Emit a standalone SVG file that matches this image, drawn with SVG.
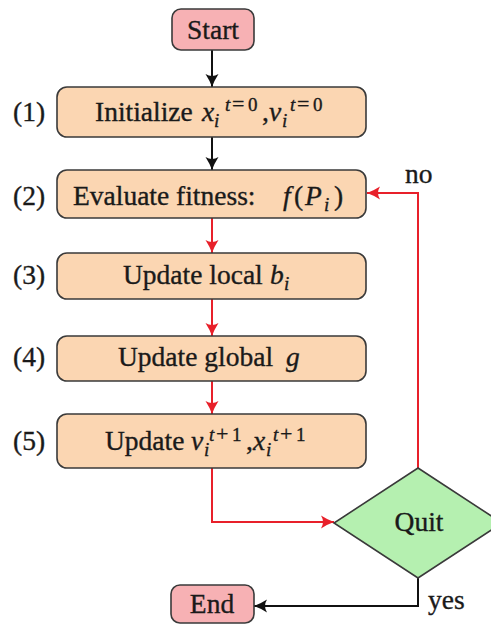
<svg xmlns="http://www.w3.org/2000/svg" width="491" height="624" viewBox="0 0 491 624">
<style>
text{font-family:"Liberation Serif","Times New Roman",serif;font-size:27.5px;fill:#1a1a1a;stroke:#1a1a1a;stroke-width:0.35}
.m{font-style:italic}
.s{font-size:19px}
.op{font-size:22px}
.ss{font-size:19px;font-style:italic}
.term{fill:#f7b1b4;stroke:#3a3a3a;stroke-width:1.6}
.proc{fill:#fbd6b2;stroke:#3a3a3a;stroke-width:1.6}
.dec{fill:#b5f0b0;stroke:#3a3a3a;stroke-width:1.6}
.k{fill:none;stroke:#111;stroke-width:2}
.r{fill:none;stroke:#e8202a;stroke-width:2}
</style>
<defs>
<marker id="ak" markerUnits="userSpaceOnUse" markerWidth="16" markerHeight="16" viewBox="-14 -8 16 16" refX="0" refY="0" orient="auto">
<path d="M0,0 Q-6,-2 -13,-6.5 Q-9,0 -13,6.5 Q-6,2 0,0Z" fill="#111"/>
</marker>
<marker id="ar" markerUnits="userSpaceOnUse" markerWidth="16" markerHeight="16" viewBox="-14 -8 16 16" refX="0" refY="0" orient="auto">
<path d="M0,0 Q-6,-2 -13,-6.5 Q-9,0 -13,6.5 Q-6,2 0,0Z" fill="#e8202a"/>
</marker>
</defs>
<g id="connectors">
<path class="k" d="M212,50 V87" marker-end="url(#ak)"/>
<path class="k" d="M212,137 V170" marker-end="url(#ak)"/>
<path class="r" d="M212,218 V253" marker-end="url(#ar)"/>
<path class="r" d="M212,299 V336" marker-end="url(#ar)"/>
<path class="r" d="M212,381 V414" marker-end="url(#ar)"/>
<path class="r" d="M212,468 V522 H334" marker-end="url(#ar)"/>
<path class="r" d="M418,468 V193 H367" marker-end="url(#ar)"/>
<path class="k" d="M418,578 V606 H254" marker-end="url(#ak)"/>
<text x="405" y="183">no</text>
<text x="428" y="609">yes</text>
</g>
<g id="start">
<rect class="term" x="172" y="9" width="82" height="41" rx="9"/>
<text x="213" y="39" text-anchor="middle">Start</text>
</g>
<g id="init">
<rect class="proc" x="57" y="87" width="309" height="50" rx="10"/>
<text x="13" y="121">(1)</text>
<text x="95" y="121">Initialize</text>
<text class="m" x="202" y="121">x</text>
<text class="ss" x="214" y="127">i</text>
<text class="s" y="111"><tspan class="m" x="225">t</tspan><tspan class="op" x="232">=</tspan><tspan x="248">0</tspan></text>
<text x="262" y="121">,</text>
<text class="m" x="269" y="121">v</text>
<text class="ss" x="282" y="127">i</text>
<text class="s" y="111"><tspan class="m" x="290">t</tspan><tspan class="op" x="297">=</tspan><tspan x="313">0</tspan></text>
</g>
<g id="evaluate">
<rect class="proc" x="57" y="170" width="309" height="48" rx="10"/>
<text x="13" y="205">(2)</text>
<text x="73" y="205">Evaluate fitness:</text>
<text class="m" x="283" y="205">f</text>
<text x="294" y="205">(</text>
<text class="m" x="305" y="205">P</text>
<text class="ss" x="324" y="211">i</text>
<text x="334" y="205">)</text>
</g>
<g id="local">
<rect class="proc" x="57" y="253" width="309" height="46" rx="10"/>
<text x="13" y="284">(3)</text>
<text x="123" y="284">Update local</text>
<text class="m" x="270" y="284">b</text>
<text class="ss" x="284" y="290">i</text>
</g>
<g id="global">
<rect class="proc" x="57" y="336" width="309" height="45" rx="10"/>
<text x="13" y="366">(4)</text>
<text x="118" y="366">Update global</text>
<text class="m" x="286" y="366">g</text>
</g>
<g id="update">
<rect class="proc" x="57" y="414" width="309" height="54" rx="10"/>
<text x="13" y="450">(5)</text>
<text x="105" y="450">Update</text>
<text class="m" x="191" y="450">v</text>
<text class="ss" x="204" y="456">i</text>
<text class="s" y="441"><tspan class="m" x="209">t</tspan><tspan class="op" x="216">+</tspan><tspan x="232">1</tspan></text>
<text x="246" y="450">,</text>
<text class="m" x="253" y="450">x</text>
<text class="ss" x="266" y="456">i</text>
<text class="s" y="441"><tspan class="m" x="273">t</tspan><tspan class="op" x="280">+</tspan><tspan x="296">1</tspan></text>
</g>
<g id="quit">
<polygon class="dec" points="418,468 502,523 418,578 334,523"/>
<text x="419" y="531" text-anchor="middle">Quit</text>
</g>
<g id="end">
<rect class="term" x="171" y="585" width="83" height="38" rx="9"/>
<text x="212" y="613" text-anchor="middle">End</text>
</g>
</svg>
